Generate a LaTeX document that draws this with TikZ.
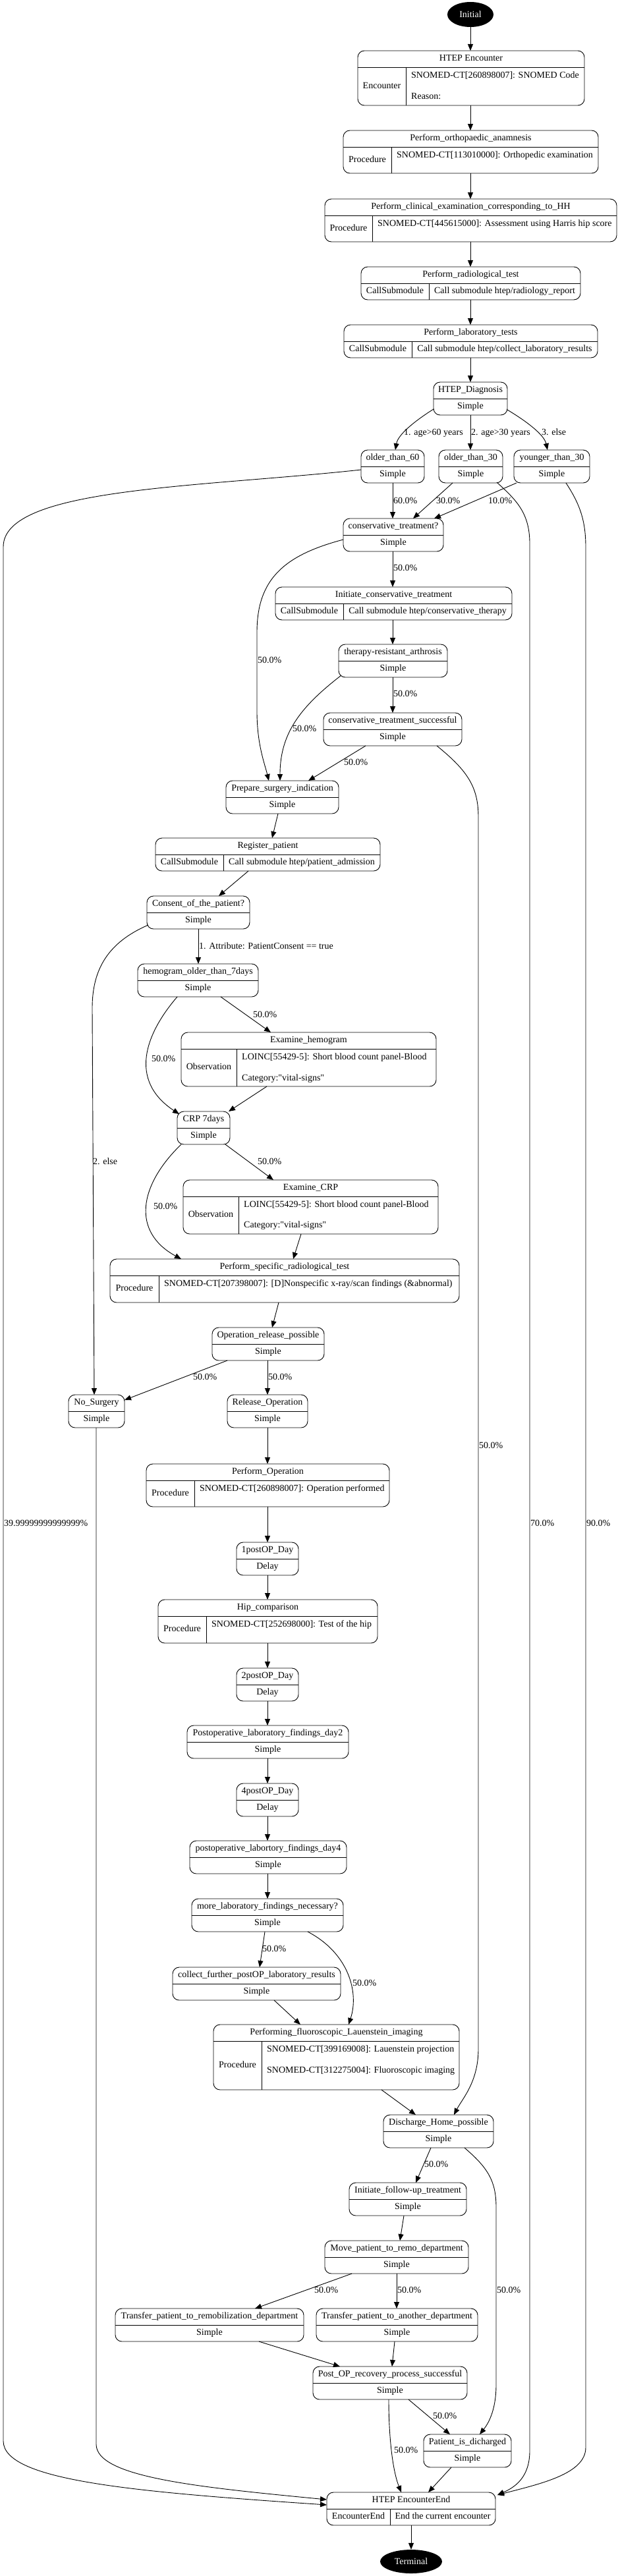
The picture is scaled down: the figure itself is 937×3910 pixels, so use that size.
\documentclass[tikz,border=0pt]{standalone}
\usepackage{fontspec}
\newfontfamily\tfont{Liberation Serif}
\usetikzlibrary{arrows.meta,shapes.geometric}
\tikzset{
 box/.style={draw, rounded corners=10pt, inner sep=0pt, outer sep=0pt, line width=0.9pt},
 sepl/.style={line width=0.9pt},
 txt/.style={inner sep=0pt, font=\tfont\fontsize{14}{16}\selectfont, text height=9.5pt, text depth=3pt},
 lbl/.style={txt, anchor=west},
 flow/.style={draw, line width=0.9pt, -{Triangle[length=10pt,width=8pt]}},
 ell/.style={ellipse, fill=black, text=white, inner sep=0pt, font=\tfont\fontsize{14}{16}\selectfont}
}
% name l t r b
\newcommand\mkbox[5]{\node[box, minimum width={#4-#2}, minimum height={#5-#3}] (#1) at ({(#2+#4)/2},{(#3+#5)/2}) {};}
% name l t r title sub
\newcommand\mksimple[6]{%
 \mkbox{#1}{#2}{#3}{#4}{#3+50}%
 \draw[sepl] (#2,#3+25) -- (#4,#3+25);%
 \node[txt] (#1-t) at ({(#2+#4)/2},#3+12.5) {#5};%
 \node[txt] (#1-s) at ({(#2+#4)/2},#3+37.5) {#6};}
% name l t r title div left right
\newcommand\mkcall[8]{%
 \mkbox{#1}{#2}{#3}{#4}{#3+50}%
 \draw[sepl] (#2,#3+25) -- (#4,#3+25);%
 \draw[sepl] (#6,#3+25) -- (#6,#3+50);%
 \node[txt] (#1-t) at ({(#2+#4)/2},#3+12.5) {#5};%
 \node[txt] (#1-l) at ({(#2+#6)/2},#3+37.5) {#7};%
 \node[txt] (#1-r) at ({(#6+#4)/2},#3+37.5) {#8};}
% name l t r b title div left line1
\newcommand\mkproc[9]{%
 \mkbox{#1}{#2}{#3}{#4}{#5}%
 \draw[sepl] (#2,#3+25) -- (#4,#3+25);%
 \draw[sepl] (#7,#3+25) -- (#7,#5);%
 \node[txt] (#1-t) at ({(#2+#4)/2},#3+12.5) {#6};%
 \node[txt] (#1-l) at ({(#2+#7)/2},{(#3+25+#5)/2}) {#8};%
 \node[txt,anchor=west] (#1-r) at (#7+8,#3+38) {#9};}
\begin{document}
\begin{tikzpicture}[x=1pt,y=-1pt]
\fill[white] (0,0) rectangle (937,3910);
\useasboundingbox (0,0) rectangle (937,3910);

\node[ell, minimum width=70pt, minimum height=38pt] (init) at (714,22) {Initial};
\mkproc{enc}{543}{77}{887}{160}{HTEP Encounter}{616}{Encounter}{SNOMED-CT[260898007]: SNOMED Code}
\node[lbl] (enc-r2) at (624,147) {Reason:};
\mkproc{ortho}{521}{198}{908}{263}{Perform\_orthopaedic\_anamnesis}{594}{Procedure}{SNOMED-CT[113010000]: Orthopedic examination}
\mkproc{clin}{493}{302}{936}{367}{Perform\_clinical\_examination\_corresponding\_to\_HH}{565}{Procedure}{SNOMED-CT[445615000]: Assessment using Harris hip score}
\mkcall{radio}{548}{405}{881}{Perform\_radiological\_test}{651}{CallSubmodule}{Call submodule htep/radiology\_report}
\mkcall{lab}{522}{493}{907}{Perform\_laboratory\_tests}{625}{CallSubmodule}{Call submodule htep/collect\_laboratory\_results}
\mksimple{diag}{658}{580}{770}{HTEP\_Diagnosis}{Simple}
\mksimple{o60}{548}{683}{644}{older\_than\_60}{Simple}
\mksimple{o30}{666}{683}{763}{older\_than\_30}{Simple}
\mksimple{y30}{780}{683}{895}{younger\_than\_30}{Simple}
\mksimple{cons}{521}{787}{673}{conservative\_treatment?}{Simple}
\mkcall{initcons}{418}{891}{777}{Initiate\_conservative\_treatment}{521}{CallSubmodule}{Call submodule htep/conservative\_therapy}
\mksimple{thera}{514}{978}{679}{therapy-resistant\_arthrosis}{Simple}
\mksimple{cts}{491}{1082}{701}{conservative\_treatment\_successful}{Simple}
\mksimple{prep}{343}{1185}{514}{Prepare\_surgery\_indication}{Simple}
\mkcall{reg}{236}{1272}{577}{Register\_patient}{339}{CallSubmodule}{Call submodule htep/patient\_admission}
\mksimple{consent}{223}{1360}{379}{Consent\_of\_the\_patient?}{Simple}
\mksimple{hemo}{209}{1463}{392}{hemogram\_older\_than\_7days}{Simple}
\mkproc{exhemo}{275}{1567}{662}{1649}{Examine\_hemogram}{359}{Observation}{LOINC[55429-5]: Short blood count panel-Blood}
\node[lbl] (exhemo-r2) at (367,1637) {Category:"vital-signs"};
\mksimple{crp}{269}{1687}{349}{CRP 7days}{Simple}
\mkproc{excrp}{278}{1791}{665}{1873}{Examine\_CRP}{362}{Observation}{LOINC[55429-5]: Short blood count panel-Blood}
\node[lbl] (excrp-r2) at (370,1860) {Category:"vital-signs"};
\mkproc{spec}{167}{1911}{697}{1977}{Perform\_specific\_radiological\_test}{241}{Procedure}{SNOMED-CT[207398007]: [D]Nonspecific x-ray/scan findings (\&abnormal)}
\mksimple{oprel}{322}{2015}{492}{Operation\_release\_possible}{Simple}
\mksimple{nosurg}{104}{2117}{189}{No\_Surgery}{Simple}
\mksimple{relop}{345}{2117}{467}{Release\_Operation}{Simple}
\mkproc{perfop}{222}{2222}{591}{2287}{Perform\_Operation}{295}{Procedure}{SNOMED-CT[260898007]: Operation performed}
\mksimple{d1}{359}{2341}{453}{1postOP\_Day}{Delay}
\mkproc{hip}{240}{2428}{573}{2494}{Hip\_comparison}{313}{Procedure}{SNOMED-CT[252698000]: Test of the hip}
\mksimple{d2}{359}{2532}{453}{2postOP\_Day}{Delay}
\mksimple{pl2}{284}{2619}{529}{Postoperative\_laboratory\_findings\_day2}{Simple}
\mksimple{d4}{359}{2707}{453}{4postOP\_Day}{Delay}
\mksimple{pl4}{288}{2794}{526}{postoperative\_labortory\_findings\_day4}{Simple}
\mksimple{more}{291}{2882}{521}{more\_laboratory\_findings\_necessary?}{Simple}
\mksimple{collect}{262}{2986}{517}{collect\_further\_postOP\_laboratory\_results}{Simple}
\mkproc{fluoro}{324}{3073}{697}{3172}{Performing\_fluoroscopic\_Lauenstein\_imaging}{397}{Procedure}{SNOMED-CT[399169008]: Lauenstein projection}
\node[lbl] (fluoro-r2) at (405,3143) {SNOMED-CT[312275004]: Fluoroscopic imaging};
\mksimple{disch}{582}{3210}{749}{Discharge\_Home\_possible}{Simple}
\mksimple{follow}{530}{3313}{708}{Initiate\_follow-up\_treatment}{Simple}
\mksimple{move}{493}{3401}{711}{Move\_patient\_to\_remo\_department}{Simple}
\mksimple{tremob}{175}{3504}{461}{Transfer\_patient\_to\_remobilization\_department}{Simple}
\mksimple{tanother}{480}{3504}{725}{Transfer\_patient\_to\_another\_department}{Simple}
\mksimple{postop}{475}{3592}{709}{Post\_OP\_recovery\_process\_successful}{Simple}
\mksimple{dich}{643}{3695}{776}{Patient\_is\_dicharged}{Simple}
\mkcall{endn}{496}{3783}{752}{HTEP EncounterEnd}{592}{EncounterEnd}{End the current encounter}
\node[ell, minimum width=94pt, minimum height=36pt] (term) at (624,3888) {Terminal};

% trunk
\draw[flow] (init.south) -- (enc.north -| init.south);
\draw[flow] (enc.south -| 714,0) -- (ortho.north -| 714,0);
\draw[flow] (ortho.south -| 714,0) -- (clin.north -| 714,0);
\draw[flow] (clin.south -| 714,0) -- (radio.north -| 714,0);
\draw[flow] (radio.south -| 714,0) -- (lab.north -| 714,0);
\draw[flow] (lab.south -| 714,0) -- (diag.north -| 714,0);
% diagnosis branches
\draw[flow] (diag.west |- 0,621) .. controls (628,640) and (604,660) .. (o60.north -| 600,0);
\draw[flow] (diag.south -| 714,0) -- (o30.north -| 714,0);
\draw[flow] (diag.east |- 0,622) .. controls (800,640) and (826,660) .. (y30.north -| 831,0);
\node[lbl] (l1) at (613,657) {1. age>60 years};
\node[lbl] (l2) at (715,657) {2. age>30 years};
\node[lbl] (l3) at (822,657) {3. else};
% to conservative
\draw[flow] (o60.south -| 596,0) -- (cons.north -| 596,0);
\node[lbl] (l4) at (597,761) {60.0\%};
\draw[flow] (o30.south -| 687,0) -- (cons.north -| 627,0);
\node[lbl] (l5) at (662,761) {30.0\%};
\draw[flow] (y30.south -| 784,0) -- (cons.north -| 659,0);
\node[lbl] (l6) at (741,761) {10.0\%};
% long edges to end
\draw[flow] (o60.west |- 0,713) .. controls (300,740) and (5,740) .. (5,830) -- (5,3705) .. controls (5,3765) and (200,3782) .. (endn.west |- 0,3802);
\node[lbl] (l29) at (6,2313) {39.99999999999999\%};
\draw[flow] (o30.south -| 755,0) .. controls (785,760) and (804,780) .. (804,825) -- (804,3720) .. controls (804,3760) and (782,3775) .. ([xshift=3pt,yshift=-4pt]endn.north east);
\node[lbl] (l30) at (805,2313) {70.0\%};
\draw[flow] (y30.south -| 859,0) .. controls (880,765) and (889,790) .. (889,830) -- (889,3715) .. controls (889,3755) and (820,3770) .. ([xshift=3pt,yshift=-4pt]endn.north east);
\node[lbl] (l31) at (890,2313) {90.0\%};
% conservative branch
\draw[flow] (cons.west |- 0,819) .. controls (430,843) and (390,880) .. (390,960) -- (390,1080) .. controls (390,1130) and (402,1160) .. (prep.north -| 408,0);
\node[lbl] (l7) at (391,1003) {50.0\%};
\draw[flow] (cons.south -| 596,0) -- (initcons.north -| 596,0);
\node[lbl] (l8) at (597,863) {50.0\%};
\draw[flow] (initcons.south -| 596,0) -- (thera.north -| 596,0);
\draw[flow] (thera.south -| 596,0) -- (cts.north -| 596,0);
\node[lbl] (l9) at (597,1054) {50.0\%};
\draw[flow] ([xshift=4pt,yshift=3pt]thera.south west) .. controls (460,1070) and (425,1110) .. (prep.north -| 425,0);
\node[lbl] (l10) at (444,1107) {50.0\%};
\draw[flow] (cts.south -| 555,0) -- (prep.north -| 468,0);
\node[lbl] (l11) at (522,1158) {50.0\%};
\draw[flow] (cts.south -| 663,0) .. controls (710,1170) and (726,1195) .. (726,1240) -- (726,3110) .. controls (726,3160) and (702,3185) .. (disch.north -| 689,0);
\node[lbl] (l12) at (727,2195) {50.0\%};
% surgery preparation
\draw[flow] (prep.south -| 422,0) -- (reg.north -| 413,0);
\draw[flow] (reg.south -| 377,0) -- (consent.north -| 332,0);
\draw[flow] (consent.south -| 301,0) -- (hemo.north -| 301,0);
\node[lbl] (l13) at (302,1437) {1. Attribute: PatientConsent == true};
\draw[flow] ([xshift=2pt,yshift=6pt]consent.south west) .. controls (165,1430) and (140,1470) .. (140,1530) -- (nosurg.north -| 143,0);
\node[lbl] (l14) at (141,1764) {2. else};
\draw[flow] (hemo.south -| 335,0) -- (exhemo.north -| 411,0);
\node[lbl] (l15) at (384,1541) {50.0\%};
\draw[flow] (hemo.south -| 269,0) .. controls (220,1570) and (195,1640) .. ([xshift=3pt,yshift=-4pt]crp.north west);
\node[lbl] (l16) at (230,1608) {50.0\%};
\draw[flow] (exhemo.south -| 405,0) -- (crp.north -| 347,0);
\draw[flow] (crp.south -| 342,0) -- (excrp.north -| 415,0);
\node[lbl] (l17) at (391,1764) {50.0\%};
\draw[flow] ([xshift=6pt]crp.south west) .. controls (210,1800) and (200,1870) .. (spec.north -| 275,0);
\node[lbl] (l18) at (233,1832) {50.0\%};
\draw[flow] (excrp.south -| 457,0) -- (spec.north -| 445,0);
\draw[flow] (spec.south -| 423,0) -- (oprel.north -| 413,0);
\draw[flow] (oprel.south -| 345,0) -- (nosurg.east |- 0,2125);
\node[lbl] (l19) at (293,2091) {50.0\%};
\draw[flow] (oprel.south -| 406,0) -- (relop.north -| 406,0);
\node[lbl] (l20) at (407,2091) {50.0\%};
\draw[flow] (nosurg.south -| 146,0) -- (146,3710) .. controls (146,3760) and (300,3775) .. (endn.west |- 0,3794);
% operation chain
\draw[flow] (relop.south -| 406,0) -- (perfop.north -| 406,0);
\draw[flow] (perfop.south -| 406,0) -- (d1.north -| 406,0);
\draw[flow] (d1.south -| 406,0) -- (hip.north -| 406,0);
\draw[flow] (hip.south -| 406,0) -- (d2.north -| 406,0);
\draw[flow] (d2.south -| 406,0) -- (pl2.north -| 406,0);
\draw[flow] (pl2.south -| 406,0) -- (d4.north -| 406,0);
\draw[flow] (d4.south -| 406,0) -- (pl4.north -| 406,0);
\draw[flow] (pl4.south -| 406,0) -- (more.north -| 406,0);
\draw[flow] (more.south -| 402,0) -- (collect.north -| 394,0);
\node[lbl] (l21) at (398,2959) {50.0\%};
\draw[flow] (more.south -| 467,0) .. controls (530,2965) and (545,3025) .. (fluoro.north -| 529,0);
\node[lbl] (l22) at (535,3011) {50.0\%};
\draw[flow] (collect.south -| 416,0) -- (fluoro.north -| 456,0);
\draw[flow] (fluoro.south -| 579,0) -- (disch.north -| 631,0);
% discharge
\draw[flow] (disch.south -| 654,0) -- (follow.north -| 631,0);
\node[lbl] (l23) at (644,3286) {50.0\%};
\draw[flow] (disch.south -| 705,0) .. controls (740,3290) and (753,3310) .. (753,3350) -- (753,3620) .. controls (753,3660) and (740,3680) .. (dich.north -| 728,0);
\node[lbl] (l24) at (754,3477) {50.0\%};
\draw[flow] (follow.south -| 613,0) -- (move.north -| 607,0);
\draw[flow] (move.south -| 534,0) -- (tremob.north -| 387,0);
\node[lbl] (l25) at (477,3477) {50.0\%};
\draw[flow] (move.south -| 602,0) -- (tanother.north -| 602,0);
\node[lbl] (l26) at (603,3477) {50.0\%};
\draw[flow] (tremob.south -| 393,0) -- (postop.north -| 516,0);
\draw[flow] (tanother.south -| 599,0) -- (postop.north -| 595,0);
\draw[flow] (postop.south -| 620,0) -- (dich.north -| 683,0);
\node[lbl] (l27) at (657,3668) {50.0\%};
\draw[flow] (postop.south -| 590,0) .. controls (590,3700) and (596,3750) .. (endn.north -| 609,0);
\node[lbl] (l28) at (598,3720) {50.0\%};
\draw[flow] (dich.south -| 685,0) -- (endn.north -| 650,0);
\draw[flow] (endn.south -| 624,0) -- (term.north);
\end{tikzpicture}
\end{document}
